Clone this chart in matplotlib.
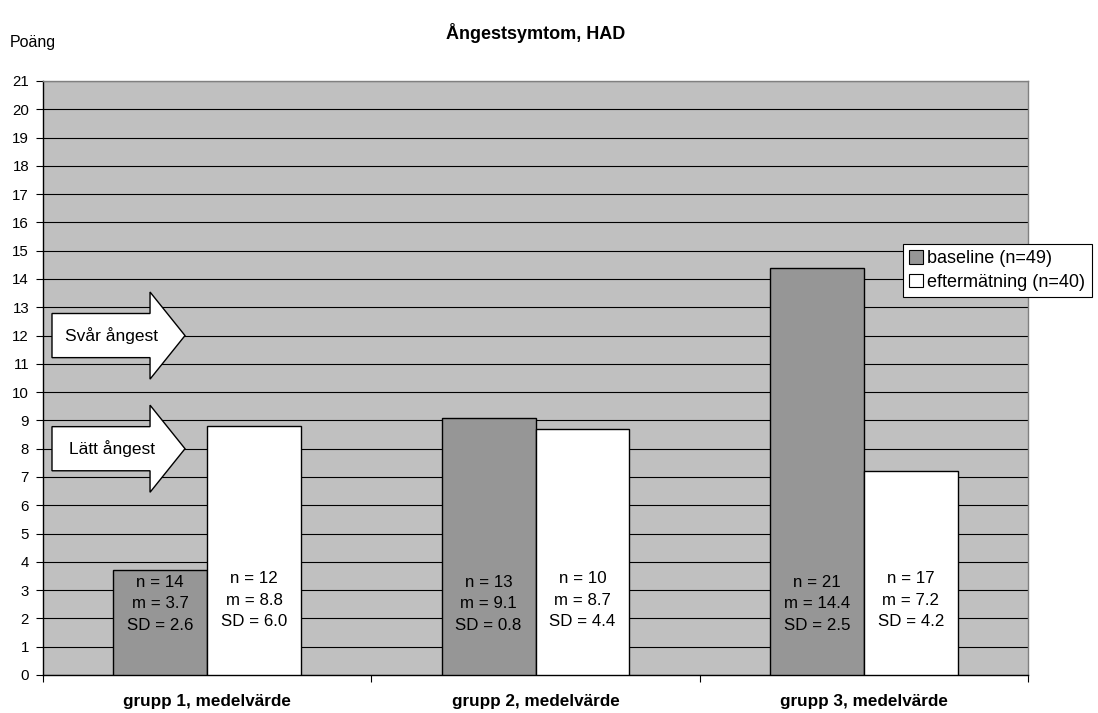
import matplotlib
matplotlib.use("Agg")
import matplotlib.pyplot as plt
from matplotlib.patches import Polygon, Patch
import numpy as np

plt.rcParams['font.family'] = ['Liberation Sans', 'DejaVu Sans']

categories = ["grupp 1, medelvärde", "grupp 2, medelvärde", "grupp 3, medelvärde"]
baseline = [3.7, 9.1, 14.4]
efter = [8.8, 8.7, 7.2]
n_base = [14, 13, 21]
n_efter = [12, 10, 17]
sd_base = [2.6, 0.8, 2.5]
sd_efter = [6.0, 4.4, 4.2]
series_names = ["baseline (n=49)", "eftermätning (n=40)"]
arrow_labels = ["Svår ångest", "Lätt ångest"]
arrow_levels = [12, 8]
yticks = list(range(0, 22))

W, H = 1098, 713
fig = plt.figure(figsize=(W / 100, H / 100), dpi=100)
ax = fig.add_axes([43 / W, (H - 675) / H, (1028 - 43) / W, (675 - 81) / H])
ax.set_facecolor('#C0C0C0')

x = np.arange(len(categories))
bw = 0.286
ax.bar(x - bw / 2, baseline, bw, color='#969696', edgecolor='black', linewidth=1.0, zorder=3)
ax.bar(x + bw / 2, efter, bw, color='white', edgecolor='black', linewidth=1.0, zorder=3)

for i in range(len(categories)):
    ax.text(x[i] - bw / 2, 2.52, f"n = {n_base[i]}\nm = {baseline[i]:.1f}\nSD = {sd_base[i]:.1f}",
            ha='center', va='center', fontsize=12.2, linespacing=1.55, zorder=4)
    ax.text(x[i] + bw / 2, 2.65, f"n = {n_efter[i]}\nm = {efter[i]:.1f}\nSD = {sd_efter[i]:.1f}",
            ha='center', va='center', fontsize=12.2, linespacing=1.55, zorder=4)

# arrows
x0, xb, xt = -0.4726, -0.174, -0.0675
bh, hh = 0.78, 1.54
for lab, yc in zip(arrow_labels, arrow_levels):
    verts = [(x0, yc - bh), (xb, yc - bh), (xb, yc - hh), (xt, yc),
             (xb, yc + hh), (xb, yc + bh), (x0, yc + bh)]
    ax.add_patch(Polygon(verts, closed=True, facecolor='white', edgecolor='black',
                         linewidth=1.0, zorder=5))
    ax.text(-0.29, yc, lab, ha='center', va='center', fontsize=12.5, zorder=6)

ax.set_xlim(-0.5, 2.5)
ax.set_ylim(0, 21)
ax.set_yticks(yticks)
ax.set_yticklabels([str(v) for v in yticks], fontsize=10.8)
ax.yaxis.grid(True, color='black', linewidth=0.8, zorder=1)
ax.set_axisbelow(True)

ax.set_xticks([-0.5, 0.5, 1.5, 2.5])
ax.set_xticklabels([])
ax.set_xticks(x, minor=True)
ax.set_xticklabels(categories, minor=True, fontsize=12.3, fontweight='bold')
ax.tick_params(axis='x', which='minor', length=0, pad=14)
ax.tick_params(axis='x', which='major', direction='out', length=5, width=0.8)
ax.tick_params(axis='y', direction='out', length=5, width=0.8, pad=5)

ax.spines['left'].set_color('black')
ax.spines['bottom'].set_color('black')
ax.spines['top'].set_color('#808080')
ax.spines['right'].set_color('#808080')
for s in ax.spines.values():
    s.set_linewidth(1.0)

fig.text(535.5 / W, 1 - 33 / H, "Ångestsymtom, HAD", ha='center', va='center',
         fontsize=13, fontweight='bold')
fig.text(10 / W, 1 - 43 / H, "Poäng", ha='left', va='center', fontsize=11.5)

handles = [Patch(facecolor='#969696', edgecolor='black', linewidth=0.8),
           Patch(facecolor='white', edgecolor='black', linewidth=0.8)]
leg = fig.legend(handles, series_names, loc='upper left',
                 bbox_to_anchor=(903 / W, 1 - 244 / H), borderaxespad=0,
                 fontsize=13, frameon=True, fancybox=False, framealpha=1,
                 edgecolor='black', handlelength=0.75, handleheight=0.75,
                 handletextpad=0.25, borderpad=0.35, labelspacing=0.35)
leg.get_frame().set_linewidth(0.8)
leg.set_zorder(10)

fig.savefig("out.png", dpi=100)
